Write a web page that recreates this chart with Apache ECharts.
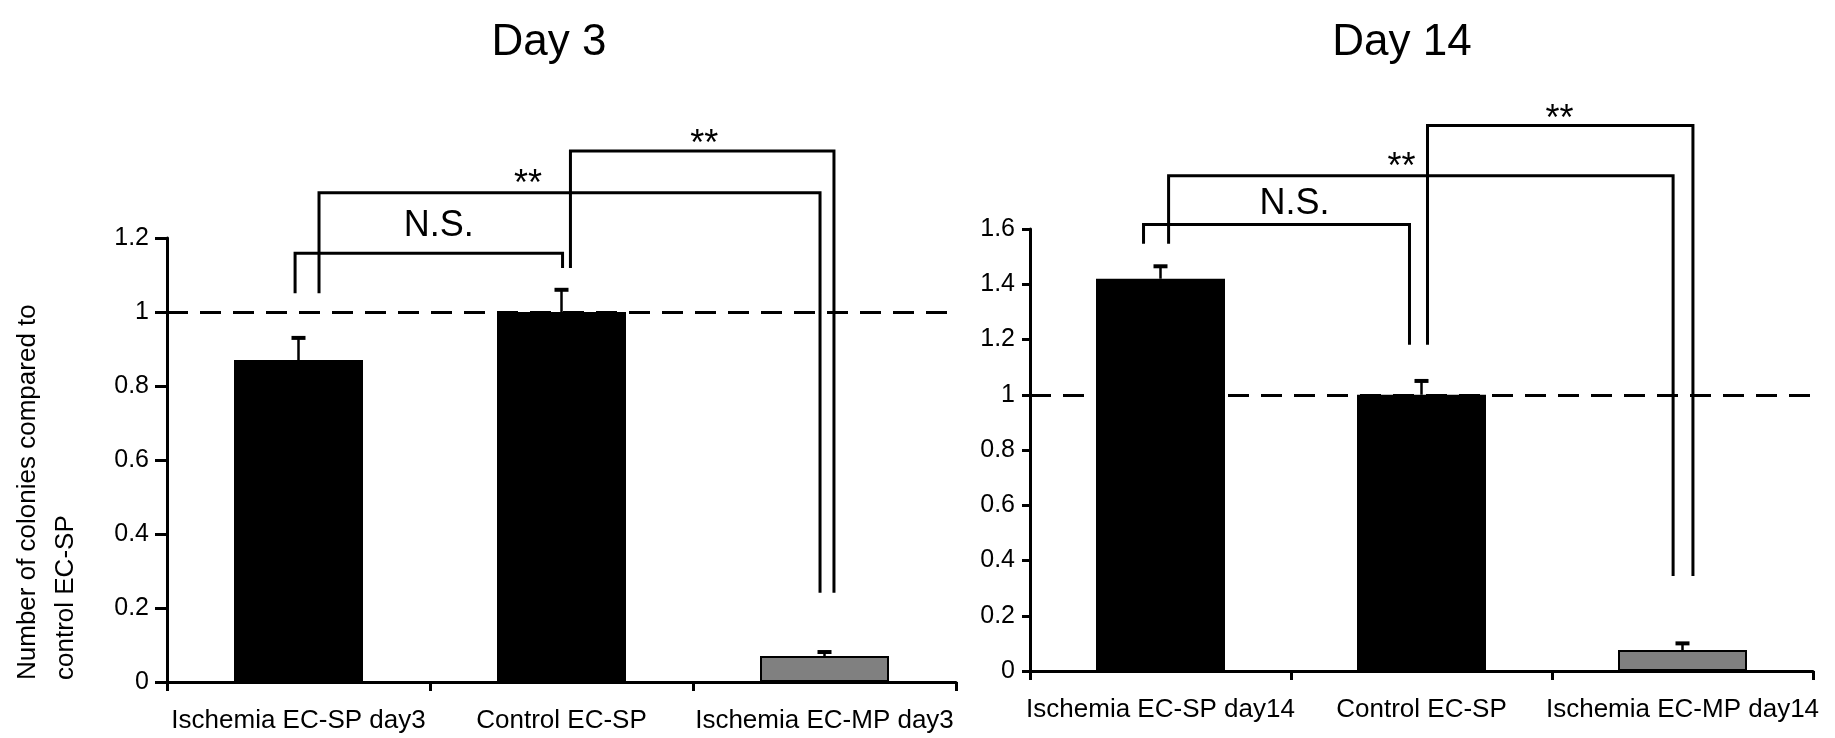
<!DOCTYPE html>
<html>
<head>
<meta charset="utf-8">
<script src="https://cdn.jsdelivr.net/npm/echarts@6/dist/echarts.min.js"></script>
<style>
html,body{margin:0;padding:0;background:#ffffff;}
#chart{width:1835px;height:738px;}
</style>
</head>
<body>
<div id="chart"></div>
<script>
// ---------------- DATA ----------------
const titles = ['Day 3', 'Day 14'];
const yAxisName = 'Number of colonies compared to\ncontrol EC-SP';

const day3Categories = ['Ischemia EC-SP day3', 'Control EC-SP', 'Ischemia EC-MP day3'];
const day3Values = [0.87, 1.0, 0.07];
const day3Errors = [0.06, 0.06, 0.011];
const day3Ticks = [0, 0.2, 0.4, 0.6, 0.8, 1, 1.2];

const day14Categories = ['Ischemia EC-SP day14', 'Control EC-SP', 'Ischemia EC-MP day14'];
const day14Values = [1.42, 1.0, 0.076];
const day14Errors = [0.045, 0.05, 0.024];
const day14Ticks = [0, 0.2, 0.4, 0.6, 0.8, 1, 1.2, 1.4, 1.6];

const referenceLevel = 1;

// significance brackets (data units): [fromCategory, fromShift, fromLegEnd, toCategory, toShift, toLegEnd, bracketTop]
const day3Brackets = [
  [0, -0.013, 1.051, 1, 0.004, 1.119, 1.159],
  [0, 0.078, 1.051, 2, -0.017, 0.241, 1.322],
  [1, 0.034, 1.119, 2, 0.036, 0.241, 1.435]
];
const day3BracketLabels = ['N.S.', '**', '**'];
// label anchors: [category, shift, value]
const day3LabelAnchors = [[0, 0.533, 1.232], [0, 0.873, 1.343], [1, 0.543, 1.451]];

const day14Brackets = [
  [0, -0.065, 1.547, 1, -0.046, 1.181, 1.616],
  [0, 0.031, 1.547, 2, -0.036, 0.344, 1.793],
  [1, 0.023, 1.181, 2, 0.040, 0.344, 1.975]
];
const day14BracketLabels = ['N.S.', '**', '**'];
const day14LabelAnchors = [[0, 0.513, 1.692], [0, 0.923, 1.822], [1, 0.529, 1.996]];

// ---------------- STYLE / LAYOUT ----------------
const FONT = '"Liberation Sans", Arial, Helvetica, sans-serif';
const barFills = ['#000000', '#000000', '#808080'];

const panels = [
  {categories: day3Categories, values: day3Values, errors: day3Errors, ticks: day3Ticks,
   brackets: day3Brackets, labels: day3BracketLabels, anchors: day3LabelAnchors,
   grid: {left: 167, right: 879, top: 238, bottom: 56}, tickLen: 12, labelMargin: 18, titleX: 544},
  {categories: day14Categories, values: day14Values, errors: day14Errors, ticks: day14Ticks,
   brackets: day14Brackets, labels: day14BracketLabels, anchors: day14LabelAnchors,
   grid: {left: 1030, right: 22, top: 229, bottom: 67}, tickLen: 8, labelMargin: 15, titleX: 1397}
];

function errorBarItem(params, api) {
  const cx = api.coord([api.value(0), 0])[0];
  const yv = api.coord([api.value(0), api.value(1)])[1];
  const ye = api.coord([api.value(0), api.value(1) + api.value(2)])[1];
  return {
    type: 'group',
    children: [
      {type: 'line', shape: {x1: cx, y1: yv, x2: cx, y2: ye}, style: {stroke: '#000', lineWidth: 2.5}},
      {type: 'line', shape: {x1: cx - 7, y1: ye, x2: cx + 7, y2: ye}, style: {stroke: '#000', lineWidth: 4}}
    ]
  };
}

function bracketItem(params, api) {
  const band = api.size([1, 0])[0];
  const x1 = api.coord([api.value(0), 0])[0] + api.value(1) * band;
  const y1 = api.coord([0, api.value(2)])[1];
  const x2 = api.coord([api.value(3), 0])[0] + api.value(4) * band;
  const y2 = api.coord([0, api.value(5)])[1];
  const yt = api.coord([0, api.value(6)])[1];
  return {
    type: 'polyline',
    shape: {points: [[x1, y1], [x1, yt], [x2, yt], [x2, y2]]},
    style: {stroke: '#000', lineWidth: 3, fill: null}
  };
}

function makeLabelItem(labels) {
  return function (params, api) {
    const band = api.size([1, 0])[0];
    const x = api.coord([api.value(0), 0])[0] + api.value(1) * band;
    const y = api.coord([0, api.value(2)])[1];
    return {
      type: 'text',
      x: x, y: y,
      style: {text: labels[params.dataIndex], font: '36px ' + FONT, fill: '#000', align: 'center', verticalAlign: 'middle'}
    };
  };
}

const option = {
  backgroundColor: '#ffffff',
  animation: false,
  title: [],
  grid: [],
  xAxis: [],
  yAxis: [],
  series: [],
  graphic: [{
    type: 'text',
    x: 9, y: 680,
    rotation: Math.PI / 2,
    style: {text: yAxisName, font: '26px ' + FONT, fill: '#000', align: 'left', verticalAlign: 'top', lineHeight: 38}
  }]
};

panels.forEach((p, i) => {
  option.title.push({
    text: titles[i], left: p.titleX, top: 16, textAlign: 'center',
    textStyle: {fontFamily: FONT, fontSize: 44, fontWeight: 'normal', color: '#000'}
  });
  option.grid.push(Object.assign({containLabel: false}, p.grid));
  option.xAxis.push({
    type: 'category', gridIndex: i, data: p.categories,
    axisLine: {lineStyle: {color: '#000', width: 3}},
    axisTick: {show: true, length: 9, lineStyle: {color: '#000', width: 3}},
    axisLabel: {interval: 0, margin: 26, color: '#000', fontFamily: FONT, fontSize: 26}
  });
  option.yAxis.push({
    type: 'value', gridIndex: i,
    min: p.ticks[0], max: p.ticks[p.ticks.length - 1], interval: p.ticks[1] - p.ticks[0],
    axisLine: {show: true, lineStyle: {color: '#000', width: 3}},
    axisTick: {show: true, length: p.tickLen, lineStyle: {color: '#000', width: 3}},
    splitLine: {show: false},
    axisLabel: {margin: p.labelMargin, color: '#000', fontFamily: FONT, fontSize: 25}
  });
  option.series.push({
    type: 'bar', xAxisIndex: i, yAxisIndex: i,
    barWidth: 129,
    data: p.values.map((v, k) => ({value: v, itemStyle: {color: barFills[k]}})),
    itemStyle: {borderColor: '#000', borderWidth: 2},
    markLine: {
      silent: true, symbol: ['none', 'none'], label: {show: false},
      lineStyle: {color: '#000', width: 3, type: [21, 12]},
      data: [{yAxis: referenceLevel}]
    }
  });
  option.series.push({
    type: 'custom', xAxisIndex: i, yAxisIndex: i, z: 5,
    renderItem: errorBarItem,
    encode: {x: 0, y: 1},
    data: p.values.map((v, k) => [k, v, p.errors[k]])
  });
  option.series.push({
    type: 'custom', xAxisIndex: i, yAxisIndex: i, z: 6, clip: false,
    renderItem: bracketItem,
    encode: {x: 0, y: 6},
    data: p.brackets
  });
  option.series.push({
    type: 'custom', xAxisIndex: i, yAxisIndex: i, z: 7, clip: false,
    renderItem: makeLabelItem(p.labels),
    encode: {x: 0, y: 2},
    data: p.anchors
  });
});

const chart = echarts.init(document.getElementById('chart'), null, {renderer: 'canvas'});
chart.setOption(option);
</script>
</body>
</html>
